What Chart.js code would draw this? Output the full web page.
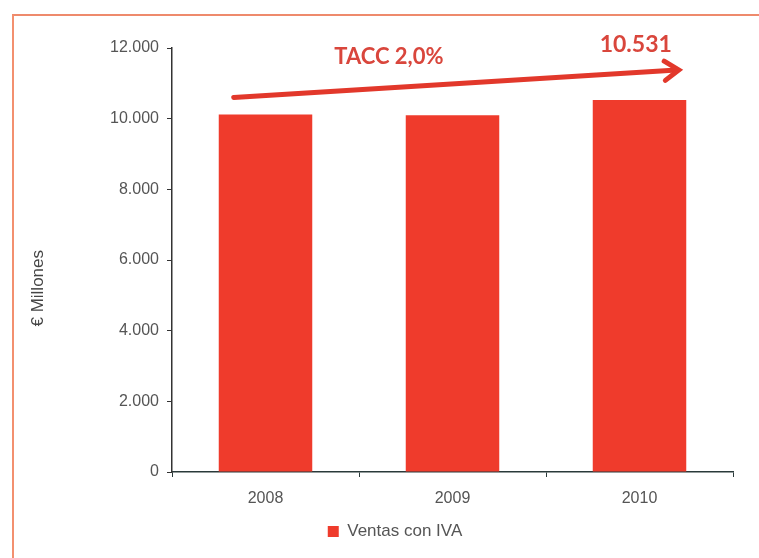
<!DOCTYPE html>
<html>
<head>
<meta charset="utf-8">
<script src="https://cdn.jsdelivr.net/npm/chart.js@4"></script>
<style>
  html, body { margin: 0; padding: 0; background: #fff; }
  #wrap { position: relative; width: 759px; height: 558px; }
  #frame { position: absolute; left: 12px; top: 14px; right: -10px; bottom: -10px;
           border-left: 2px solid #f3906f; border-top: 2px solid #ee8a6c; pointer-events: none; }
</style>
</head>
<body>
<div id="wrap">
  <canvas id="chart" width="759" height="558"></canvas>
  <div id="frame"></div>
</div>
<script>
// Data
const years = ['2008', '2009', '2010'];
const ventas = [10115, 10095, 10531];
const yTicks = [0, 2000, 4000, 6000, 8000, 10000, 12000];
const seriesLabel = 'Ventas con IVA';
const yTitle = '€ Millones';

// Growth arrow + labels, anchored in (category index, value)
const arrowFrom = [-0.17, 10600];
const arrowTo = [2.21, 11380];
const growthLabel = 'TACC 2,0%';
const growthAt = [0.66, 11760];
const lastLabel = '10.531';
const lastAt = [1.98, 12090];
const yTitleAt = 5200;

const fmt = v => v.toString().replace(/\B(?=(\d{3})+(?!\d))/g, '.');

// Draws the arrow, its texts and the axis title
const arrowPlugin = {
    id: 'arrow',
    afterDatasetsDraw(chart) {
        const { ctx, scales: { x, y } } = chart;
        const x0 = x.getPixelForValue(arrowFrom[0]), y0 = y.getPixelForValue(arrowFrom[1]);
        const x1 = x.getPixelForValue(arrowTo[0]), y1 = y.getPixelForValue(arrowTo[1]);
        const ang = Math.atan2(y1 - y0, x1 - x0);
        ctx.save();
        ctx.strokeStyle = '#e2382b';
        ctx.lineWidth = 5;
        ctx.lineCap = 'round';
        ctx.beginPath();
        ctx.moveTo(x0, y0);
        ctx.lineTo(x1 - 2 * Math.cos(ang), y1 - 2 * Math.sin(ang));
        ctx.stroke();
        // head
        const hl = 17;
        ctx.beginPath();
        ctx.moveTo(x1 - hl * Math.cos(ang - 0.6), y1 - hl * Math.sin(ang - 0.6));
        ctx.lineTo(x1, y1);
        ctx.lineTo(x1 - hl * Math.cos(ang + 0.6), y1 - hl * Math.sin(ang + 0.6));
        ctx.stroke();

        ctx.fillStyle = '#d9463c';
        ctx.font = 'bold 22px Lato';
        ctx.textAlign = 'center';
        ctx.textBaseline = 'middle';
        ctx.fillText(growthLabel, x.getPixelForValue(growthAt[0]), y.getPixelForValue(growthAt[1]));
        ctx.font = 'bold 23px Lato';
        ctx.fillText(lastLabel, x.getPixelForValue(lastAt[0]), y.getPixelForValue(lastAt[1]));

        // y axis title, a bit below the middle like the original
        ctx.translate(38, y.getPixelForValue(yTitleAt));
        ctx.rotate(-Math.PI / 2);
        ctx.fillStyle = '#444';
        ctx.font = '17px "Liberation Sans", Arial, sans-serif';
        ctx.fillText(yTitle, 0, 0);
        ctx.restore();
    }
};

document.addEventListener('DOMContentLoaded', () => {
    const ctx = document.getElementById('chart').getContext('2d');
    Chart.defaults.font.family = '"Liberation Sans", Arial, sans-serif';
    Chart.defaults.color = '#555';

    new Chart(ctx, {
        type: 'bar',
        data: {
            labels: years,
            datasets: [{
                label: seriesLabel,
                data: ventas,
                backgroundColor: '#ef3b2c',
                borderWidth: 0,
                barPercentage: 0.5,
                categoryPercentage: 1
            }]
        },
        options: {
            responsive: false,
            animation: false,
            layout: { padding: { left: 57, right: 26, top: 48, bottom: 8 } },
            plugins: {
                tooltip: { enabled: false },
                legend: {
                    position: 'bottom',
                    labels: { boxWidth: 11, boxHeight: 11, padding: 10, color: '#555', font: { size: 17 } }
                }
            },
            scales: {
                x: {
                    grid: { display: true, drawOnChartArea: false, offset: true, tickLength: 5, color: '#2a3a3a' },
                    border: { color: '#2a3a3a', width: 1.5 },
                    ticks: { font: { size: 16 }, color: '#555', padding: 12 },
                    afterFit: s => { s.height = 41; }
                },
                y: {
                    min: 0,
                    max: 12000,
                    afterBuildTicks: s => { s.ticks = yTicks.map(v => ({ value: v })); },
                    grid: { display: true, drawOnChartArea: false, tickLength: 5, color: '#333' },
                    border: { color: '#333', width: 1.5 },
                    ticks: { font: { size: 16 }, color: '#555', padding: 8, callback: v => fmt(v) },
                    afterFit: s => { s.width = 115; }
                }
            }
        },
        plugins: [arrowPlugin]
    });
});
</script>
</body>
</html>
